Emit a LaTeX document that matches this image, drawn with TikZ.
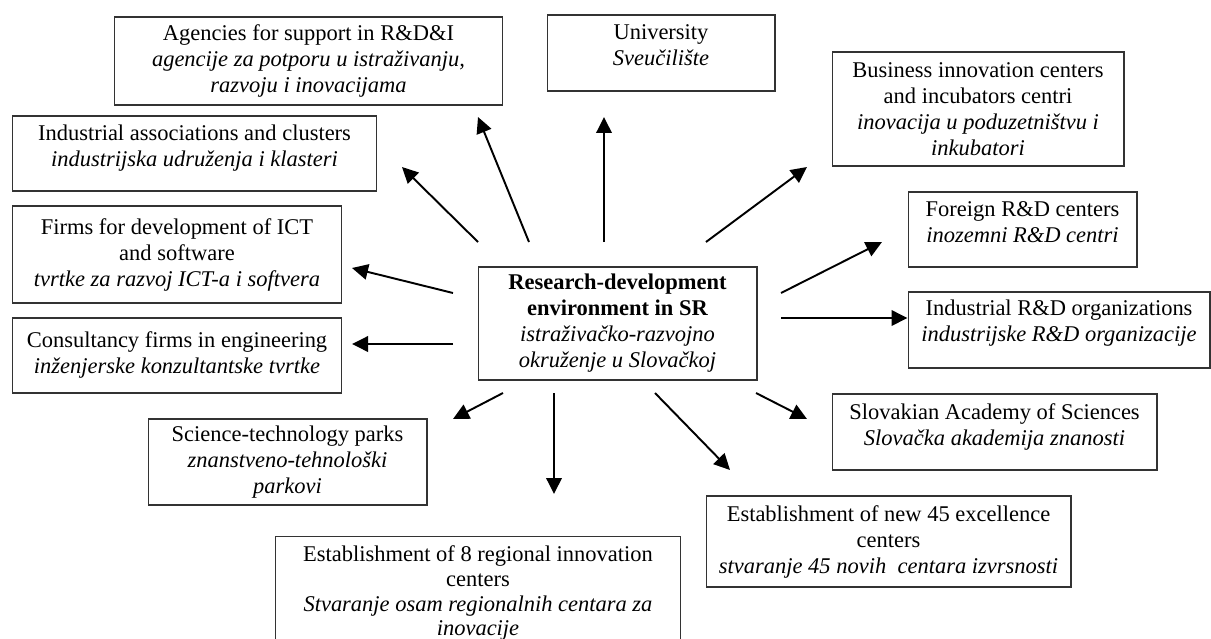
\documentclass[tikz,border=0pt]{standalone}
\usepackage{fontspec}
\setmainfont{Liberation Serif}
\usepackage{tikz}
\usetikzlibrary{arrows.meta}
\tikzset{
  entity/.style={draw=black!80, line width=0.6pt, rectangle, inner sep=2pt, align=center,
    font=\fontsize{12.8}{14.8}\selectfont},
  link/.style={-{Triangle[length=0.32cm,width=0.31cm]}, line width=1.1pt}
}

\begin{document}
\begin{tikzpicture}[x=0.02cm, y=-0.02cm]
  \useasboundingbox (0,0) rectangle (1211,639);

  % central box
  \node[entity, minimum width=5.58cm, minimum height=2.26cm] (rde) at (617.5,323.5)
    {\textbf{Research-development}\\ \textbf{environment in SR}\\
     \textit{istraživačko-razvojno}\\ \textit{okruženje u Slovačkoj}};

  % surrounding boxes
  \node[entity, minimum width=7.78cm, minimum height=1.76cm] (agency) at (308.5,61)
    {Agencies for support in R\&D\&I\\ \textit{agencije za potporu u istraživanju,}\\
     \textit{razvoju i inovacijama}};
  \node[entity, minimum width=4.56cm, minimum height=1.52cm] (univ) at (661,53)
    {University\\ \textit{Sveučilište}\\[-5.7pt] ~};
  \node[entity, minimum width=5.84cm, minimum height=2.28cm] (bic) at (978,109)
    {Business innovation centers\\ and incubators centri\\
     \textit{inovacija u poduzetništvu i}\\ \textit{inkubatori}};
  \node[entity, minimum width=7.30cm, minimum height=1.50cm] (indassoc) at (194.5,153.5)
    {Industrial associations and clusters\\ \textit{industrijska udruženja i klasteri}\\[-5.7pt] ~};
  \node[entity, minimum width=6.60cm, minimum height=1.94cm] (ict) at (177,254.5)
    {Firms for development of ICT\\ and software\\ \textit{tvrtke za razvoj ICT-a i softvera}};
  \node[entity, minimum width=6.60cm, minimum height=1.50cm] (consult) at (177,355.5)
    {Consultancy firms in engineering\\ \textit{inženjerske konzultantske tvrtke}\\[-11pt] ~};
  \node[entity, minimum width=4.58cm, minimum height=1.50cm] (foreign) at (1022.5,229.5)
    {Foreign R\&D centers\\ \textit{inozemni R\&D centri}\\[-6.8pt] ~};
  \node[entity, minimum width=6.04cm, minimum height=1.52cm] (indrd) at (1059,330)
    {Industrial R\&D organizations\\ \textit{industrijske R\&D organizacije}\\[-4.5pt] ~};
  \node[entity, minimum width=5.58cm, minimum height=1.72cm] (stp) at (287.5,462)
    {Science-technology parks\\ \textit{znanstveno-tehnološki}\\ \textit{parkovi}};
  \node[entity, minimum width=6.50cm, minimum height=1.52cm] (sas) at (994.5,432)
    {Slovakian Academy of Sciences\\ \textit{Slovačka akademija znanosti}\\[-6.8pt] ~};
  \node[entity, minimum width=7.30cm, minimum height=1.82cm] (excel) at (888.5,541.5)
    {Establishment of new 45 excellence\\ centers\\ \textit{stvaranje 45 novih~ centara izvrsnosti}};
  \node[entity, minimum width=8.12cm, minimum height=2.26cm,
        font=\fontsize{12.8}{14.2}\selectfont] (regional) at (478,593)
    {Establishment of 8 regional innovation\\ centers\\
     \textit{Stvaranje osam regionalnih centara za}\\ \textit{inovacije}};

  % arrow ends
  \coordinate (agency-s) at (529,242);   \coordinate (agency-e) at (478,117);
  \coordinate (indassoc-s) at (478,242); \coordinate (indassoc-e) at (402,167);
  \coordinate (univ-s) at (604,242);     \coordinate (univ-e) at (604,117);
  \coordinate (bic-s) at (706,242);      \coordinate (bic-e) at (807,167);
  \coordinate (ict-s) at (453,293);      \coordinate (ict-e) at (352,268);
  \coordinate (foreign-s) at (781,293);  \coordinate (foreign-e) at (882,242);
  \coordinate (indrd-s) at (781,318);
  \coordinate (consult-s) at (453,344);  \coordinate (consult-e) at (352,344);
  \coordinate (stp-s) at (503,393);      \coordinate (stp-e) at (453,419);
  \coordinate (regional-s) at (554,393); \coordinate (regional-e) at (554,494);
  \coordinate (excel-s) at (655,393);    \coordinate (excel-e) at (730,470);
  \coordinate (sas-s) at (756,393);      \coordinate (sas-e) at (807,419);

  % arrows
  \draw[link] (agency-s) -- (agency-e);
  \draw[link] (indassoc-s) -- (indassoc-e);
  \draw[link] (univ-s) -- (univ-e);
  \draw[link] (bic-s) -- (bic-e);
  \draw[link] (ict-s) -- (ict-e);
  \draw[link] (foreign-s) -- (foreign-e);
  \draw[link] (indrd-s) -- (indrd-s -| indrd.west);
  \draw[link] (consult-s) -- (consult-e);
  \draw[link] (stp-s) -- (stp-e);
  \draw[link] (regional-s) -- (regional-e);
  \draw[link] (excel-s) -- (excel-e);
  \draw[link] (sas-s) -- (sas-e);
\end{tikzpicture}
\end{document}
